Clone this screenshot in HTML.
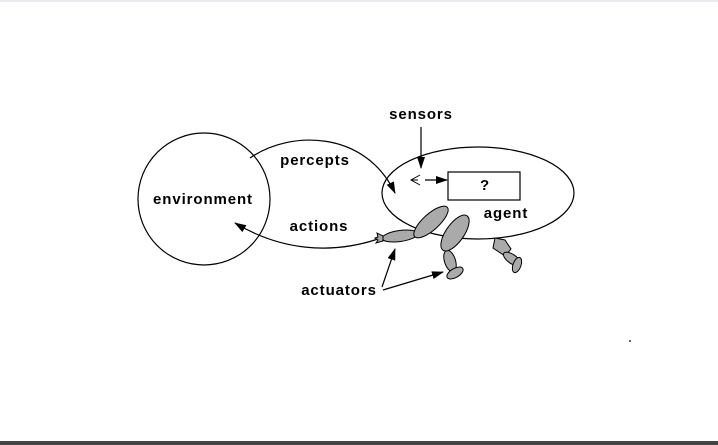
<!DOCTYPE html>
<html><head><style>
html,body{margin:0;padding:0;background:#fff;}
svg{display:block}
text{font-family:"Liberation Sans",sans-serif;font-weight:bold;font-size:15px;letter-spacing:0.9px;fill:#000}
</style></head><body>
<svg width="718" height="445" viewBox="0 0 718 445" xmlns="http://www.w3.org/2000/svg">
<defs>
<marker id="a" markerWidth="12" markerHeight="8" refX="11" refY="4" orient="auto" markerUnits="userSpaceOnUse">
<path d="M0,0 L12,4 L0,8 Z" fill="#000"/></marker>
</defs>
<rect x="0" y="0" width="718" height="2" fill="#e8ecf0"/>
<rect x="0" y="441" width="718" height="4" fill="#444"/>
<circle cx="204" cy="199" r="66" fill="none" stroke="#000" stroke-width="1.2"/>
<text x="203" y="204" text-anchor="middle">environment</text>
<ellipse cx="478" cy="193" rx="96" ry="46" fill="#fff" stroke="#000" stroke-width="1.2"/>
<rect x="448" y="172" width="72" height="28" fill="#fff" stroke="#000" stroke-width="1.2"/>
<text x="485" y="190" text-anchor="middle">?</text>
<text x="506" y="218" text-anchor="middle">agent</text>
<text x="421" y="119" text-anchor="middle">sensors</text>
<line x1="421" y1="127" x2="421" y2="168" stroke="#000" stroke-width="1.2" marker-end="url(#a)"/>
<path d="M420,175 L411,180 L420,185" fill="none" stroke="#000" stroke-width="1"/>
<line x1="411" y1="180" x2="418" y2="180" stroke="#000"/>
<line x1="425" y1="180" x2="447" y2="180" stroke="#000" stroke-width="1.2" marker-end="url(#a)"/>
<path d="M250,158 C290,130 365,130 395,193" fill="none" stroke="#000" stroke-width="1.2" marker-end="url(#a)"/>
<text x="315" y="165" text-anchor="middle">percepts</text>
<path d="M378,239 C330,255 280,250 235,223" fill="none" stroke="#000" stroke-width="1.2" marker-end="url(#a)"/>
<text x="319" y="231" text-anchor="middle">actions</text>
<g fill="#aaa" stroke="#000" stroke-width="1">
<ellipse cx="400" cy="236" rx="18" ry="5.5" transform="rotate(-8 400 236)"/>
<path d="M383,236 l-6,-3 l1,4 l-3,1 l3,2 l-2,3 l7,-2 Z"/>
<ellipse cx="431" cy="222" rx="22" ry="8" transform="rotate(-42 431 222)"/>
<path d="M495,238 L493,248 L505,256 L511,249 L505,240 Z"/>
<ellipse cx="512" cy="259" rx="10" ry="4.5" transform="rotate(35 512 259)"/>
<ellipse cx="517" cy="265" rx="4" ry="8" transform="rotate(20 517 265)"/>
<ellipse cx="450" cy="261" rx="5.5" ry="11" transform="rotate(-18 450 261)"/>
<ellipse cx="455" cy="273" rx="9" ry="4.5" transform="rotate(-30 455 273)"/>
<ellipse cx="455" cy="233" rx="21" ry="9" transform="rotate(-55 455 233)"/>
</g>
<text x="339" y="295" text-anchor="middle">actuators</text>
<line x1="382" y1="287" x2="395" y2="249" stroke="#000" stroke-width="1.2" marker-end="url(#a)"/>
<line x1="383" y1="290" x2="443" y2="272" stroke="#000" stroke-width="1.2" marker-end="url(#a)"/>
<circle cx="630" cy="341" r="1" fill="#333"/>
</svg>
</body></html>
